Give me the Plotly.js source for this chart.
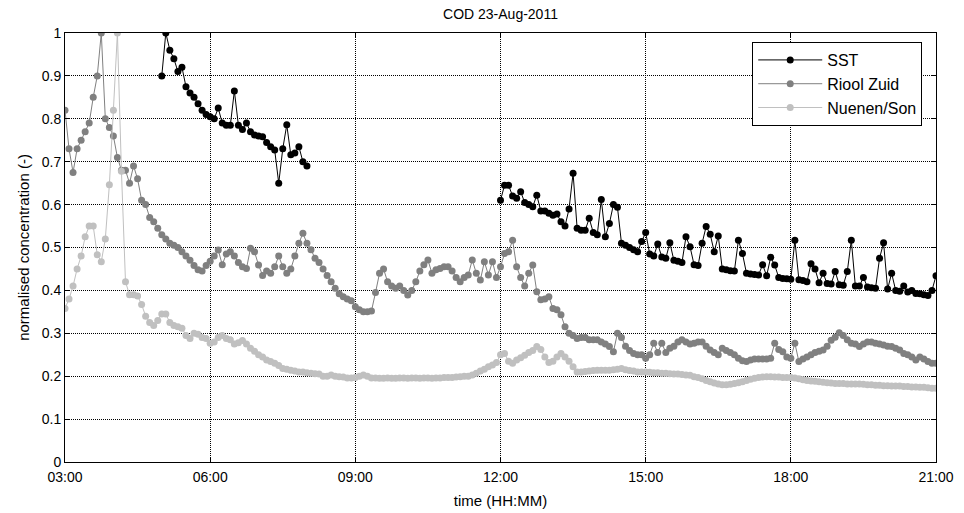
<!DOCTYPE html>
<html>
<head>
<meta charset="utf-8">
<script src="https://cdn.plot.ly/plotly-3.0.1.min.js"></script>
<style>html,body{margin:0;padding:0;background:#fff;}#chart{width:964px;height:513px;}</style>
</head>
<body>
<div id="chart"></div>
<script>
// ---- data (5-minute samples) ----
const day = '2011-08-23';
const stepMin = 5;

// SST, first segment 05:00 - 08:00
const sstStart1 = '05:00';
const sstValues1 = [
  0.90, 1.00, 0.96, 0.94, 0.91, 0.92, 0.875, 0.86, 0.85, 0.835, 0.82, 0.81,
  0.805, 0.80, 0.825, 0.79, 0.785, 0.785, 0.865, 0.785, 0.775, 0.79, 0.77, 0.762,
  0.76, 0.758, 0.745, 0.735, 0.727, 0.65, 0.73, 0.786, 0.716, 0.72, 0.735, 0.70,
  0.69
];
// SST, second segment 12:00 - 21:00
const sstStart2 = '12:00';
const sstValues2 = [
  0.61, 0.645, 0.645, 0.62, 0.615, 0.63, 0.605, 0.60, 0.595, 0.622, 0.585, 0.585,
  0.58, 0.575, 0.578, 0.56, 0.55, 0.59, 0.673, 0.545, 0.54, 0.54, 0.568, 0.535,
  0.53, 0.612, 0.525, 0.556, 0.60, 0.594, 0.51, 0.505, 0.50, 0.495, 0.49, 0.514,
  0.535, 0.485, 0.48, 0.508, 0.478, 0.475, 0.511, 0.47, 0.468, 0.465, 0.525, 0.502,
  0.46, 0.458, 0.51, 0.549, 0.531, 0.49, 0.527, 0.45, 0.448, 0.446, 0.445, 0.517,
  0.486, 0.44, 0.438, 0.437, 0.436, 0.46, 0.434, 0.477, 0.459, 0.43, 0.428, 0.427,
  0.426, 0.517, 0.425, 0.423, 0.42, 0.462, 0.45, 0.418, 0.44, 0.416, 0.415, 0.444,
  0.413, 0.412, 0.444, 0.517, 0.41, 0.41, 0.43, 0.408, 0.406, 0.405, 0.475, 0.511,
  0.403, 0.44, 0.40, 0.398, 0.41, 0.396, 0.40, 0.393, 0.392, 0.39, 0.388, 0.40,
  0.434
];

// Riool Zuid 03:00 - 21:00
const rioolStart = '03:00';
const rioolValues = [
  0.82, 0.73, 0.675, 0.73, 0.75, 0.77, 0.79, 0.85, 0.90, 1.00, 0.80, 0.78,
  0.76, 0.71, 0.68, 0.68, 0.65, 0.69, 0.66, 0.61, 0.60, 0.57, 0.56, 0.545,
  0.53, 0.52, 0.51, 0.505, 0.50, 0.49, 0.48, 0.47, 0.458, 0.448, 0.445, 0.458,
  0.468, 0.48, 0.494, 0.46, 0.485, 0.49, 0.48, 0.465, 0.455, 0.451, 0.498, 0.49,
  0.459, 0.435, 0.445, 0.44, 0.455, 0.48, 0.455, 0.44, 0.45, 0.48, 0.51, 0.533,
  0.51, 0.495, 0.475, 0.465, 0.45, 0.435, 0.42, 0.405, 0.392, 0.385, 0.38, 0.376,
  0.362, 0.355, 0.35, 0.35, 0.352, 0.395, 0.44, 0.45, 0.42, 0.41, 0.405, 0.41,
  0.40, 0.389, 0.40, 0.42, 0.445, 0.46, 0.471, 0.44, 0.448, 0.451, 0.455, 0.455,
  0.445, 0.43, 0.42, 0.43, 0.436, 0.471, 0.44, 0.424, 0.467, 0.436, 0.467, 0.43,
  0.455, 0.486, 0.49, 0.517, 0.455, 0.43, 0.41, 0.44, 0.459, 0.397, 0.378, 0.38,
  0.385, 0.358, 0.355, 0.343, 0.315, 0.30, 0.295, 0.288, 0.29, 0.29, 0.285, 0.285,
  0.285, 0.28, 0.275, 0.269, 0.257, 0.30, 0.29, 0.27, 0.26, 0.253, 0.25, 0.25,
  0.242, 0.25, 0.277, 0.255, 0.277, 0.255, 0.265, 0.27, 0.28, 0.285, 0.28, 0.275,
  0.277, 0.28, 0.28, 0.27, 0.261, 0.255, 0.25, 0.265, 0.26, 0.255, 0.25, 0.242,
  0.236, 0.234, 0.238, 0.24, 0.24, 0.24, 0.24, 0.242, 0.277, 0.262, 0.257, 0.245,
  0.242, 0.277, 0.234, 0.24, 0.245, 0.25, 0.255, 0.258, 0.261, 0.27, 0.284, 0.291,
  0.301, 0.295, 0.285, 0.277, 0.275, 0.269, 0.275, 0.28, 0.28, 0.277, 0.275, 0.273,
  0.27, 0.269, 0.265, 0.261, 0.253, 0.25, 0.245, 0.238, 0.245, 0.24, 0.234, 0.23,
  0.23
];

// Nuenen/Son 03:00 - 21:00
const nuenenStart = '03:00';
const nuenenValues = [
  0.358, 0.38, 0.41, 0.45, 0.48, 0.525, 0.55, 0.55, 0.483, 0.467, 0.52, 0.646,
  0.82, 1.00, 0.678, 0.42, 0.39, 0.39, 0.387, 0.367, 0.34, 0.325, 0.318, 0.33,
  0.345, 0.345, 0.325, 0.318, 0.315, 0.312, 0.295, 0.288, 0.30, 0.298, 0.29, 0.288,
  0.277, 0.28, 0.29, 0.295, 0.288, 0.285, 0.275, 0.278, 0.283, 0.275, 0.265, 0.258,
  0.25, 0.245, 0.238, 0.234, 0.23, 0.225, 0.218, 0.216, 0.214, 0.212, 0.21, 0.21,
  0.208, 0.207, 0.206, 0.205, 0.20, 0.20, 0.203, 0.20, 0.199, 0.198, 0.196, 0.196,
  0.197, 0.20, 0.203, 0.20, 0.196, 0.196, 0.195, 0.195, 0.196, 0.195, 0.195, 0.196,
  0.196, 0.195, 0.196, 0.196, 0.195, 0.196, 0.196, 0.195, 0.196, 0.196, 0.197, 0.197,
  0.197, 0.198, 0.199, 0.20, 0.20, 0.203, 0.207, 0.212, 0.216, 0.222, 0.226, 0.232,
  0.25, 0.253, 0.235, 0.23, 0.238, 0.243, 0.249, 0.255, 0.26, 0.269, 0.262, 0.245,
  0.232, 0.235, 0.245, 0.253, 0.245, 0.235, 0.222, 0.21, 0.21, 0.211, 0.212, 0.213,
  0.214, 0.214, 0.214, 0.214, 0.215, 0.216, 0.218, 0.215, 0.213, 0.212, 0.21, 0.21,
  0.21, 0.209, 0.208, 0.208, 0.207, 0.207, 0.206, 0.205, 0.205, 0.204, 0.203, 0.202,
  0.199, 0.197, 0.194, 0.19, 0.187, 0.184, 0.182, 0.18, 0.18, 0.181, 0.183, 0.185,
  0.187, 0.19, 0.193, 0.195, 0.197, 0.198, 0.199, 0.199, 0.198, 0.198, 0.197, 0.197,
  0.197, 0.196, 0.194, 0.192, 0.19, 0.189, 0.188, 0.187, 0.186, 0.185, 0.184, 0.183,
  0.183, 0.183, 0.182, 0.182, 0.182, 0.182, 0.181, 0.18, 0.18, 0.179, 0.179, 0.178,
  0.178, 0.177, 0.177, 0.177, 0.176, 0.176, 0.175, 0.175, 0.174, 0.174, 0.173, 0.172,
  0.172
];

const seriesNames = ['SST', 'Riool Zuid', 'Nuenen/Son'];
const seriesColors = ['#000000', '#808080', '#c0c0c0'];
const titleText = 'COD 23-Aug-2011';
const xTitle = 'time (HH:MM)';
const yTitle = 'normalised concentration (-)';

// ---- helpers ----
function pad(n) { return (n < 10 ? '0' : '') + n; }
function timeAxis(start, count) {
  const p = start.split(':');
  const m0 = parseInt(p[0], 10) * 60 + parseInt(p[1], 10);
  const out = [];
  for (let i = 0; i < count; i++) {
    const m = m0 + i * stepMin;
    out.push(day + ' ' + pad(Math.floor(m / 60)) + ':' + pad(m % 60));
  }
  return out;
}

const sstX = timeAxis(sstStart1, sstValues1.length)
  .concat([day + ' 10:00'])
  .concat(timeAxis(sstStart2, sstValues2.length));
const sstY = sstValues1.concat([null]).concat(sstValues2);

function mk(name, x, y, color) {
  return {
    type: 'scatter', mode: 'lines+markers', name: name, x: x, y: y,
    line: { color: color, width: 1 },
    marker: { color: color, size: 7, line: { width: 0 } },
    connectgaps: false
  };
}

const traces = [
  mk(seriesNames[0], sstX, sstY, seriesColors[0]),
  mk(seriesNames[1], timeAxis(rioolStart, rioolValues.length), rioolValues, seriesColors[1]),
  mk(seriesNames[2], timeAxis(nuenenStart, nuenenValues.length), nuenenValues, seriesColors[2])
];

const axisCommon = {
  showline: true, linecolor: '#000', linewidth: 1, mirror: 'ticks',
  ticks: 'inside', ticklen: 5, tickcolor: '#000',
  showgrid: true, gridcolor: '#000', gridwidth: 1, griddash: '1px,1px',
  zeroline: false,
  tickfont: { size: 14, color: '#000' }
};

const layout = {
  width: 964, height: 513,
  margin: { l: 65, r: 28, t: 33, b: 51 },
  paper_bgcolor: '#fff', plot_bgcolor: '#fff',
  font: { family: 'Liberation Sans, Arial, sans-serif', size: 14, color: '#000' },
  title: { text: titleText, x: 0.5, xref: 'paper', xanchor: 'center', y: 0.973, yanchor: 'middle', font: { size: 14 } },
  xaxis: Object.assign({}, axisCommon, {
    type: 'date',
    range: [day + ' 03:00', day + ' 21:00'],
    dtick: 3 * 3600 * 1000,
    tick0: day + ' 03:00',
    tickformat: '%H:%M',
    ticklabelstandoff: 2,
    title: { text: xTitle, standoff: 11, font: { size: 15 } }
  }),
  yaxis: Object.assign({}, axisCommon, {
    range: [0, 1],
    dtick: 0.1,
    tick0: 0,
    title: { text: yTitle, standoff: 8, font: { size: 15 } }
  }),
  legend: {
    x: 0.789, y: 0.979, xanchor: 'left', yanchor: 'top',
    bgcolor: '#fff', bordercolor: '#000', borderwidth: 1,
    font: { size: 16 }, itemwidth: 64, tracegroupgap: 0
  },
  showlegend: true
};

Plotly.newPlot('chart', traces, layout, { displayModeBar: false, staticPlot: true });
</script>
</body>
</html>
